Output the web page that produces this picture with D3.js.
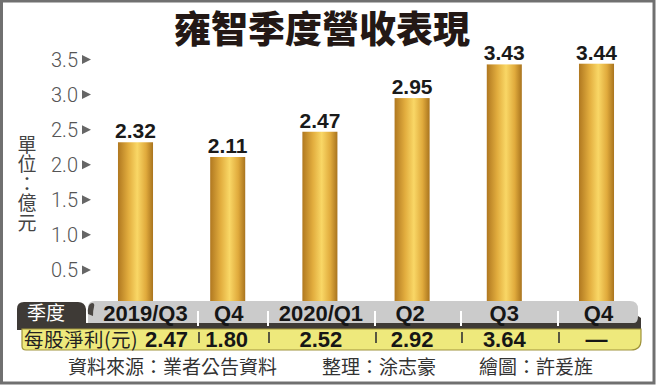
<!DOCTYPE html>
<html lang="zh-TW">
<head>
<meta charset="UTF-8">
<title>雍智季度營收表現</title>
<script src="https://d3js.org/d3.v7.min.js"></script>
<style>
    body {margin: 0; background: #fff;}
    svg {display: block;}
</style>
</head>
<body>
<script>
    const width = 656;
    const height = 385;

    // data
    const quarters = ["2019/Q3", "Q4", "2020/Q1", "Q2", "Q3", "Q4"];
    const revenue  = [2.32, 2.11, 2.47, 2.95, 3.43, 3.44];
    const eps      = ["2.47", "1.80", "2.52", "2.92", "3.64", "—"];
    const yTicks   = [0.5, 1.0, 1.5, 2.0, 2.5, 3.0, 3.5];

    const title    = "雍智季度營收表現";
    const unitText = "單位：億元";
    const credits  = ["資料來源：業者公告資料", "整理：涂志豪", "繪圖：許爰旌"];

    const cjk = "'Noto Sans CJK TC', 'Noto Sans CJK SC', sans-serif";
    const num = "'Liberation Sans', Arial, sans-serif";

    const svg = d3.select("body").append("svg")
            .attr("width", width).attr("height", height);

    const defs = svg.append("defs");
    const grad = defs.append("linearGradient").attr("id", "gold")
            .attr("x1", "0%").attr("x2", "100%").attr("y1", "0%").attr("y2", "0%");
    [["0%", "#b07820"], ["30%", "#e2ad3e"], ["55%", "#f9d766"], ["80%", "#e0aa3c"], ["100%", "#a9741e"]]
        .forEach(s => grad.append("stop").attr("offset", s[0]).attr("stop-color", s[1]));

    // scales
    const x = d3.scaleBand().domain(d3.range(quarters.length))
            .range([89.4, 642.6]).paddingInner(0.62).paddingOuter(0.31);
    const y = d3.scaleLinear().domain([0, 3.5]).range([305, 59.5]);
    const cx = i => x(i) + x.bandwidth() / 2;

    // title
    svg.append("text")
            .attr("x", 322).attr("y", 43)
            .attr("text-anchor", "middle")
            .style("font-family", cjk).style("font-weight", 900)
            .style("font-size", "37px").style("fill", "#231815")
            .text(title);

    // y tick labels with small arrow heads
    const tick = svg.append("g").selectAll("g").data(yTicks).enter()
            .append("g").attr("transform", d => `translate(0,${y(d)})`);
    tick.append("text")
            .attr("x", 78).attr("dy", "0.36em")
            .attr("text-anchor", "end")
            .style("font-family", "Roboto, sans-serif").style("font-weight", 300)
            .style("font-size", "20px").style("fill", "#555")
            .text(d => d.toFixed(1));
    tick.append("path")
            .attr("d", "M82,-4.5L91,0L82,4.5Z")
            .style("fill", "#666");

    // unit label, written vertically
    svg.append("text")
            .attr("x", 27).attr("y", 135)
            .attr("writing-mode", "tb")
            .style("font-family", cjk).style("font-size", "19px").style("fill", "#444")
            .style("letter-spacing", "0.5px")
            .text(unitText);

    // bars
    svg.append("g").selectAll("rect").data(revenue).enter()
            .append("rect")
            .attr("x", (d, i) => x(i))
            .attr("y", d => y(d))
            .attr("width", x.bandwidth())
            .attr("height", d => y(0) - y(d))
            .style("fill", "url(#gold)");

    svg.append("g").selectAll("text").data(revenue).enter()
            .append("text")
            .attr("x", (d, i) => cx(i))
            .attr("y", d => y(d) - 4)
            .attr("text-anchor", "middle")
            .style("font-family", num).style("font-weight", "bold")
            .style("font-size", "21px").style("fill", "#1a1a1a")
            .text(d => d.toFixed(2));

    // ---- table ----
    const tbl = svg.append("g");

    // gray header band
    tbl.append("path")
            .attr("d", "M88,324V308Q88,301 95,301H630Q638,301 638,309V324Z")
            .style("fill", "#cbcbcb");
    // dark strip + right shadow
    tbl.append("path")
            .attr("d", "M17,323H634Q638,323 638,316L641,318V330H17Z")
            .style("fill", "#3e3a36");
    // "季度" tab
    tbl.append("path")
            .attr("d", "M17,328V309Q17,302 24,302H78Q85,302 86,309V324H17Z")
            .style("fill", "#3e3a36");
    tbl.append("path")
            .attr("d", "M88,314Q87,304 92,303Q95,303 94,307Q93,310 93,316Z")
            .style("fill", "#4a4642");
    tbl.append("text")
            .attr("x", 27).attr("y", 320)
            .style("font-family", cjk).style("font-size", "19px").style("fill", "#fff")
            .text("季度");

    // yellow EPS row
    tbl.append("path")
            .attr("d", "M22,329H641V340Q641,350 631,350H26Q22,350 22,346Z")
            .style("fill", "#eee97c").style("stroke", "#a0943c").style("stroke-width", 1.2);
    tbl.append("text")
            .attr("x", 24).attr("y", 346.5)
            .style("font-family", cjk).style("font-size", "19.5px").style("fill", "#222")
            .style("letter-spacing", "0.5px")
            .text("每股淨利(元)");

    // column separators (text-driven, not evenly spaced)
    const sepX = [198, 268, 375, 461, 558];
    tbl.selectAll("line.sepw").data(sepX).enter().append("line")
            .attr("class", "sepw")
            .attr("x1", d => d).attr("x2", d => d).attr("y1", 311).attr("y2", 326)
            .style("stroke", "#fff").style("stroke-width", 2);
    tbl.selectAll("line.sepd").data(sepX).enter().append("line")
            .attr("class", "sepd")
            .attr("x1", d => d + 1).attr("x2", d => d + 1).attr("y1", 332).attr("y2", 343)
            .style("stroke", "#333").style("stroke-width", 1.6);

    // header labels and eps values
    const hdrShift = [10, 1, 1, -2, 0, 2];
    const epsShift = [31, -1, 1, 0, 0, 0];
    tbl.selectAll("text.hdr").data(quarters).enter().append("text")
            .attr("class", "hdr")
            .attr("x", (d, i) => cx(i) + hdrShift[i]).attr("y", 321)
            .attr("text-anchor", "middle")
            .style("font-family", num).style("font-weight", "bold")
            .style("font-size", "22px").style("fill", "#161616")
            .text(d => d);
    tbl.selectAll("text.eps").data(eps).enter().append("text")
            .attr("class", "eps")
            .attr("x", (d, i) => cx(i) + epsShift[i]).attr("y", 346.5)
            .attr("text-anchor", "middle")
            .style("font-family", num).style("font-weight", "bold")
            .style("font-size", "22px").style("fill", "#161616")
            .text(d => d);

    // credits
    const creditX = [68, 322, 479];
    svg.append("g").selectAll("text").data(credits).enter()
            .append("text")
            .attr("x", (d, i) => creditX[i]).attr("y", 374)
            .style("font-family", cjk).style("font-size", "19px").style("fill", "#333")
            .text(d => d);

    // outer frame
    svg.append("rect")
            .attr("x", 1.5).attr("y", 1).attr("width", width - 3.5).attr("height", height - 3)
            .style("fill", "none").style("stroke", "#707070").style("stroke-width", 3);
</script>
</body>
</html>
